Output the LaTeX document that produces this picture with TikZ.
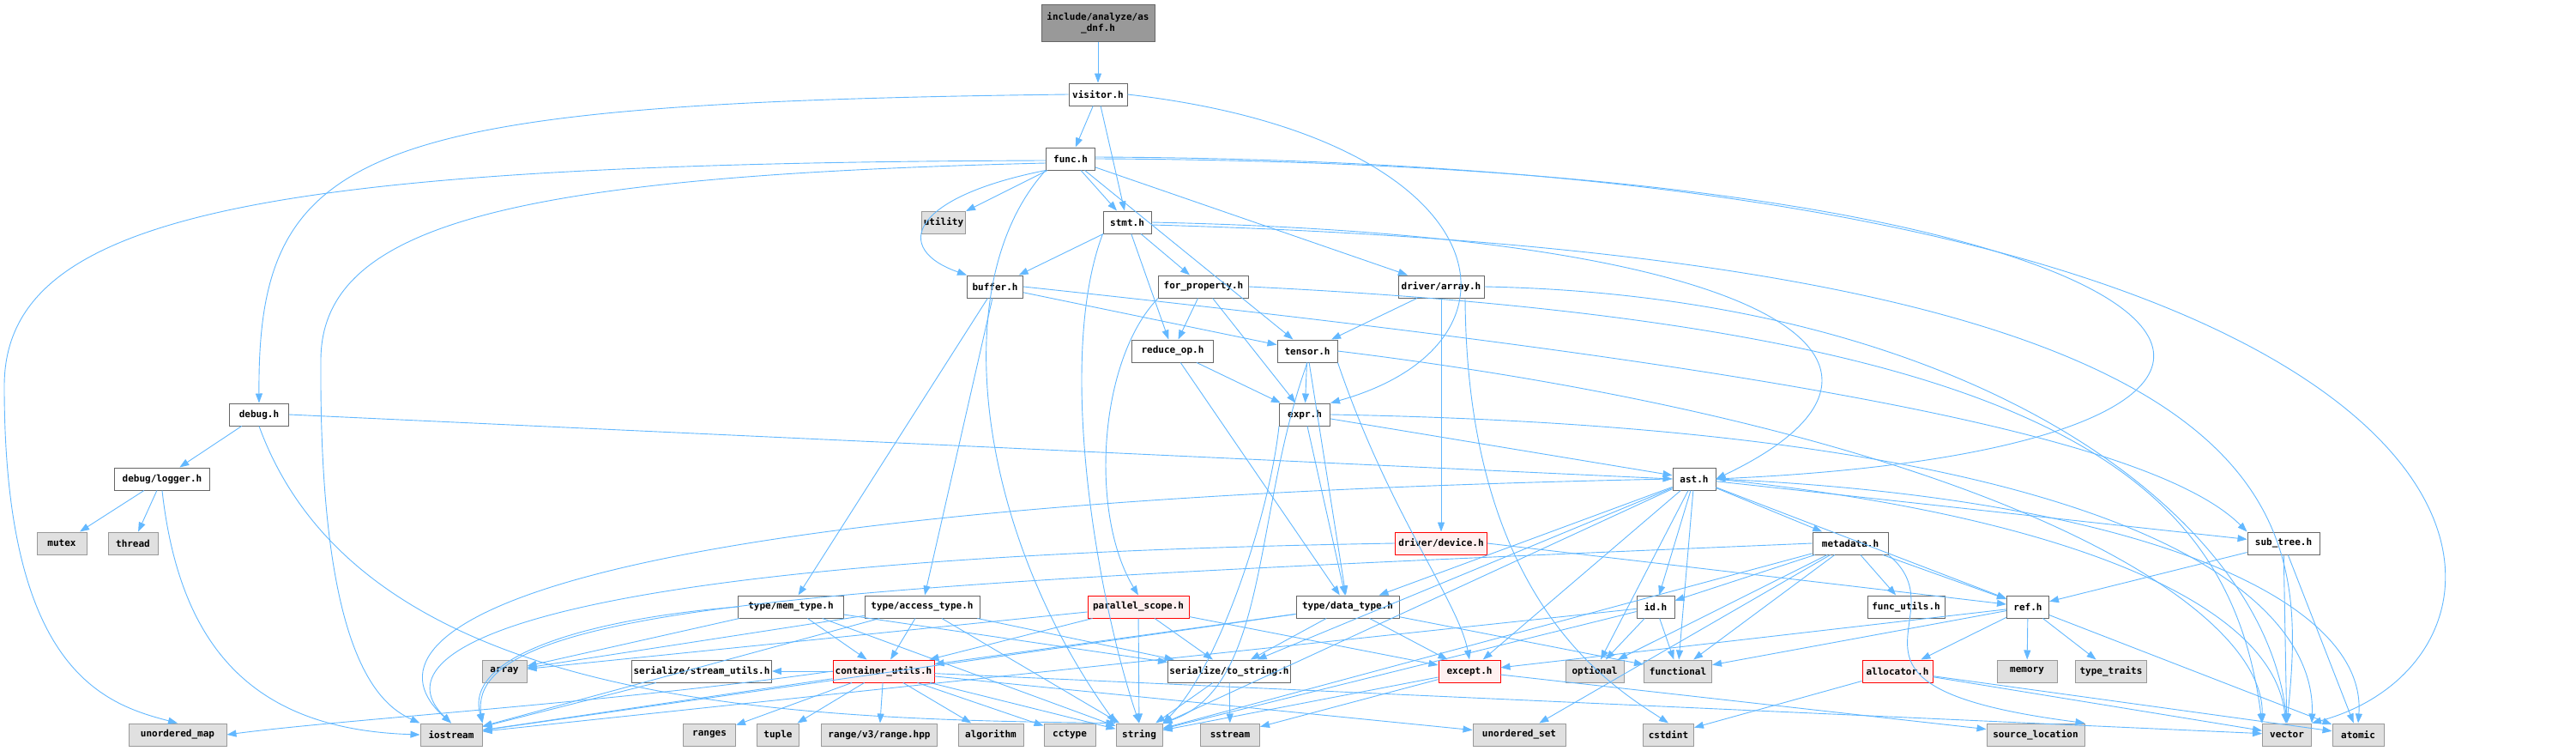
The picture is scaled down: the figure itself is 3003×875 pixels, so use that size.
\documentclass[tikz,border=0pt]{standalone}
\usepackage{fontspec}
\usepackage{tikz}
\usetikzlibrary{arrows.meta}
\newfontfamily\dxfont{DejaVu Sans Mono}
\definecolor{edgeblue}{HTML}{63B8FF}
\definecolor{boxgray}{HTML}{666666}
\definecolor{sysgray}{HTML}{999999}
\definecolor{sysfill}{HTML}{E0E0E0}
\definecolor{hotfill}{HTML}{FFF0F0}

\begin{document}
\begin{tikzpicture}[
        x=1pt, y=-1pt,
        every node/.style={font=\dxfont\bfseries\fontsize{11}{13}\selectfont},
        header/.style={rectangle, draw=boxgray, fill=white, line width=1pt, minimum height=26pt, inner xsep=2pt, inner ysep=0pt},
        sysheader/.style={header, draw=sysgray, fill=sysfill},
        hotheader/.style={header, draw=red, fill=hotfill},
        rootheader/.style={header, fill=sysgray, minimum height=43pt, align=center},
        edge/.style={draw=edgeblue, line width=0.9pt, -{Triangle[length=11pt, width=8pt]}}
    ]
        \useasboundingbox (0,0) rectangle (3003,875);

        % Headers
        \node[rootheader, minimum width=132] (asdnf) at (1280,27) {include/analyze/as\\\_dnf.h};
        \node[header, minimum width=68] (visitor) at (1280,110) {visitor.h};
        \node[header, minimum width=57] (func) at (1248,185) {func.h};
        \node[sysheader, minimum width=51] (utility) at (1100,259) {utility};
        \node[header, minimum width=56] (stmt) at (1314,259) {stmt.h};
        \node[header, minimum width=65] (buffer) at (1160,334) {buffer.h};
        \node[header, minimum width=105] (forprop) at (1403,334) {for\_property.h};
        \node[header, minimum width=100] (darray) at (1680,334) {driver/array.h};
        \node[header, minimum width=95] (reduceop) at (1367,409) {reduce\_op.h};
        \node[header, minimum width=70] (tensor) at (1524,409) {tensor.h};
        \node[header, minimum width=69] (debug) at (302,483) {debug.h};
        \node[header, minimum width=59] (expr) at (1521,483) {expr.h};
        \node[header, minimum width=111] (logger) at (189,558) {debug/logger.h};
        \node[header, minimum width=50] (ast) at (1975,558) {ast.h};
        \node[sysheader, minimum width=58] (mutex) at (72,633) {mutex};
        \node[sysheader, minimum width=58] (thread) at (155,633) {thread};
        \node[hotheader, minimum width=107] (ddevice) at (1680,633) {driver/device.h};
        \node[header, minimum width=88] (metadata) at (2157,633) {metadata.h};
        \node[header, minimum width=84] (subtree) at (2662,633) {sub\_tree.h};
        \node[header, minimum width=123] (memtype) at (922,707) {type/mem\_type.h};
        \node[header, minimum width=134] (accesstype) at (1075,707) {type/access\_type.h};
        \node[hotheader, minimum width=118] (parscope) at (1327,707) {parallel\_scope.h};
        \node[header, minimum width=120] (datatype) at (1571,707) {type/data\_type.h};
        \node[header, minimum width=44] (id) at (1930,707) {id.h};
        \node[header, minimum width=90] (funcutils) at (2222,707) {func\_utils.h};
        \node[header, minimum width=49] (ref) at (2364,707) {ref.h};
        \node[sysheader, minimum width=52] (array) at (588,782) {array};
        \node[header, minimum width=157] (streamutils) at (818,782) {serialize/stream\_utils.h};
        \node[hotheader, minimum width=118] (contutils) at (1030,782) {container\_utils.h};
        \node[header, minimum width=137] (tostring) at (1433,782) {serialize/to\_string.h};
        \node[hotheader, minimum width=72] (except) at (1713,782) {except.h};
        \node[sysheader, minimum width=68] (optional) at (1859,782) {optional};
        \node[sysheader, minimum width=79] (functional) at (1956,782) {functional};
        \node[hotheader, minimum width=82] (allocator) at (2212,782) {allocator.h};
        \node[sysheader, minimum width=70] (memory) at (2363,782) {memory};
        \node[sysheader, minimum width=83] (typetraits) at (2461,782) {type\_traits};
        \node[sysheader, minimum width=114] (umap) at (207,856) {unordered\_map};
        \node[sysheader, minimum width=72] (iostream) at (526,856) {iostream};
        \node[sysheader, minimum width=61] (ranges) at (827,856) {ranges};
        \node[sysheader, minimum width=49] (tuple) at (907,856) {tuple};
        \node[sysheader, minimum width=135] (rangev3) at (1025,856) {range/v3/range.hpp};
        \node[sysheader, minimum width=76] (algorithm) at (1155,856) {algorithm};
        \node[sysheader, minimum width=60] (cctype) at (1247,856) {cctype};
        \node[sysheader, minimum width=54] (string) at (1328,856) {string};
        \node[sysheader, minimum width=69] (sstream) at (1434,856) {sstream};
        \node[sysheader, minimum width=108] (uset) at (1771,856) {unordered\_set};
        \node[sysheader, minimum width=59] (cstdint) at (1945,856) {cstdint};
        \node[sysheader, minimum width=114] (srcloc) at (2373,856) {source\_location};
        \node[sysheader, minimum width=57] (vector) at (2666,856) {vector};
        \node[sysheader, minimum width=60] (atomic) at (2749,856) {atomic};

        % Edges
        \draw[edge] (asdnf) -- (visitor);

        \draw[edge] (visitor) -- (func);
        \draw[edge] (visitor) -- (stmt);
        \draw[edge] (visitor.west) .. controls (420,120) and (300,170) .. (debug.north);
        \draw[edge] (visitor.east) .. controls (1750,160) and (1800,400) .. (expr.north east);

        \draw[edge] (func) -- (utility);
        \draw[edge] (func) -- (stmt);
        \draw[edge] (func) -- (tensor);
        \draw[edge] (func) -- (darray);
        \draw[edge] (func.south west) .. controls (1060,230) and (1040,290) .. (buffer.north west);
        \draw[edge] (func.south west) .. controls (1100,330) and (1140,620) .. (string.north west);
        \draw[edge] ([yshift=-2pt]func.west) .. controls (300,190) and (5,250) .. (5,450) .. controls (5,780) and (120,820) .. (umap.north);
        \draw[edge] ([yshift=-5pt]func.west) .. controls (600,205) and (374,260) .. (374,420) .. controls (372,760) and (440,820) .. (iostream.north west);
        \draw[edge] (func.east) .. controls (2650,190) and (2850,520) .. (ast.east);
        \draw[edge] ([yshift=2pt]func.east) .. controls (2990,190) and (3000,760) .. (vector.north east);

        \draw[edge] (stmt) -- (buffer);
        \draw[edge] (stmt) -- (forprop);
        \draw[edge] (stmt) -- (reduceop);
        \draw[edge] (stmt.south west) .. controls (1230,420) and (1280,700) .. (string.north);
        \draw[edge] (stmt.east) .. controls (2100,275) and (2270,430) .. (ast.east);
        \draw[edge] ([yshift=-3pt]stmt.east) .. controls (2700,300) and (2690,600) .. (vector.north);

        \draw[edge] (buffer) -- (tensor);
        \draw[edge] (buffer) -- (memtype);
        \draw[edge] (buffer) -- (accesstype);
        \draw[edge] (buffer.east) .. controls (2000,420) and (2500,500) .. (subtree.north west);

        \draw[edge] (forprop) -- (reduceop);
        \draw[edge] (forprop) -- (expr);
        \draw[edge] (forprop.south west) .. controls (1280,420) and (1270,600) .. (parscope.north);
        \draw[edge] (forprop.east) .. controls (2400,380) and (2600,560) .. (vector.north west);

        \draw[edge] (darray) -- (tensor);
        \draw[edge] (darray) -- (ddevice);
        \draw[edge] ([xshift=28pt]darray.south) .. controls (1710,700) and (1880,800) .. (cstdint.north);
        \draw[edge] (darray.east) .. controls (2300,345) and (2640,600) .. (vector.north);

        \draw[edge] (reduceop) -- (expr);
        \draw[edge] (reduceop) -- (datatype);

        \draw[edge] (tensor) -- (expr);
        \draw[edge] (tensor) -- (datatype);
        \draw[edge] (tensor.south) .. controls (1460,600) and (1480,800) .. (string.north east);
        \draw[edge] (tensor.south east) .. controls (1620,600) and (1700,700) .. (except.north);
        \draw[edge] (tensor.east) .. controls (2300,500) and (2640,700) .. (vector.north west);

        \draw[edge] (debug) -- (logger);
        \draw[edge] (debug.east) -- (ast.west);
        \draw[edge] (debug.south) .. controls (420,820) and (900,838) .. (string.north west);

        \draw[edge] (logger) -- (mutex);
        \draw[edge] (logger) -- (thread);
        \draw[edge] (logger.south) .. controls (210,760) and (300,850) .. (iostream.west);

        \draw[edge] (expr) -- (ast);
        \draw[edge] (expr) -- (datatype);
        \draw[edge] (expr.south west) .. controls (1480,600) and (1420,780) .. (string.north east);
        \draw[edge] (expr.east) .. controls (2500,500) and (2700,700) .. (vector.north east);

        \draw[edge] (ast) -- (metadata);
        \draw[edge] (ast) -- (subtree);
        \draw[edge] (ast) -- (ref);
        \draw[edge] (ast) -- (id);
        \draw[edge] (ast) -- (datatype);
        \draw[edge] (ast) -- (tostring);
        \draw[edge] (ast) -- (except);
        \draw[edge] (ast) -- (optional);
        \draw[edge] (ast) -- (functional);
        \draw[edge] (ast) -- (string);
        \draw[edge] (ast.west) .. controls (600,585) and (410,740) .. (iostream.north);
        \draw[edge] (ast.east) .. controls (2500,580) and (2760,700) .. (atomic.north);
        \draw[edge] (ast.east) .. controls (2400,600) and (2650,700) .. (vector);

        \draw[edge] (ddevice.west) .. controls (600,650) and (440,760) .. (iostream.north);
        \draw[edge] (ddevice.east) -- (ref);

        \draw[edge] (metadata) -- (id);
        \draw[edge] (metadata) -- (funcutils);
        \draw[edge] (metadata) -- (ref);
        \draw[edge] (metadata) -- (functional);
        \draw[edge] (metadata) -- (optional);
        \draw[edge] (metadata) -- (string);
        \draw[edge] (metadata) -- (uset);
        \draw[edge] (metadata.south east) .. controls (2290,720) and (2100,800) .. (srcloc.north east);
        \draw[edge] (metadata.west) .. controls (1000,680) and (540,700) .. (iostream.north east);

        \draw[edge] (subtree) -- (ref);
        \draw[edge] (subtree) -- (vector);
        \draw[edge] (subtree) -- (atomic);

        \draw[edge] (memtype) -- (contutils);
        \draw[edge] (memtype) -- (tostring);
        \draw[edge] (memtype) -- (array);
        \draw[edge] (memtype) -- (string);
        \draw[edge] (memtype.west) .. controls (700,720) and (540,760) .. (iostream.north east);

        \draw[edge] (accesstype) -- (contutils);
        \draw[edge] (accesstype) -- (tostring);
        \draw[edge] (accesstype) -- (array);
        \draw[edge] (accesstype) -- (iostream);
        \draw[edge] (accesstype) -- (string);

        \draw[edge] (parscope) -- (tostring);
        \draw[edge] (parscope) -- (except);
        \draw[edge] (parscope) -- (string);
        \draw[edge] (parscope) -- (contutils);
        \draw[edge] (parscope) -- (array);

        \draw[edge] (datatype) -- (tostring);
        \draw[edge] (datatype) -- (except);
        \draw[edge] (datatype) -- (functional);
        \draw[edge] (datatype) -- (contutils);
        \draw[edge] (datatype) -- (iostream);

        \draw[edge] (id) -- (optional);
        \draw[edge] (id) -- (functional);
        \draw[edge] (id) -- (iostream);
        \draw[edge] (id) -- (string);

        \draw[edge] (ref) -- (memory);
        \draw[edge] (ref) -- (typetraits);
        \draw[edge] (ref) -- (allocator);
        \draw[edge] (ref) -- (except);
        \draw[edge] (ref) -- (functional);
        \draw[edge] (ref) -- (atomic);

        \draw[edge] (streamutils) -- (iostream);

        \draw[edge] (contutils) -- (streamutils);
        \draw[edge] (contutils) -- (iostream);
        \draw[edge] (contutils.west) .. controls (700,820) and (400,838) .. (umap.east);
        \draw[edge] (contutils) -- (ranges);
        \draw[edge] (contutils) -- (tuple);
        \draw[edge] (contutils) -- (rangev3);
        \draw[edge] (contutils) -- (algorithm);
        \draw[edge] (contutils) -- (cctype);
        \draw[edge] (contutils) -- (string);
        \draw[edge] (contutils) -- (uset);
        \draw[edge] (contutils) -- (vector);

        \draw[edge] (tostring) -- (sstream);
        \draw[edge] (tostring) -- (string);

        \draw[edge] (except) -- (string);
        \draw[edge] (except) -- (sstream);
        \draw[edge] (except) -- (srcloc);

        \draw[edge] (allocator) -- (vector);
        \draw[edge] (allocator) -- (atomic);
        \draw[edge] (allocator) -- (cstdint);
    \end{tikzpicture}
\end{document}
